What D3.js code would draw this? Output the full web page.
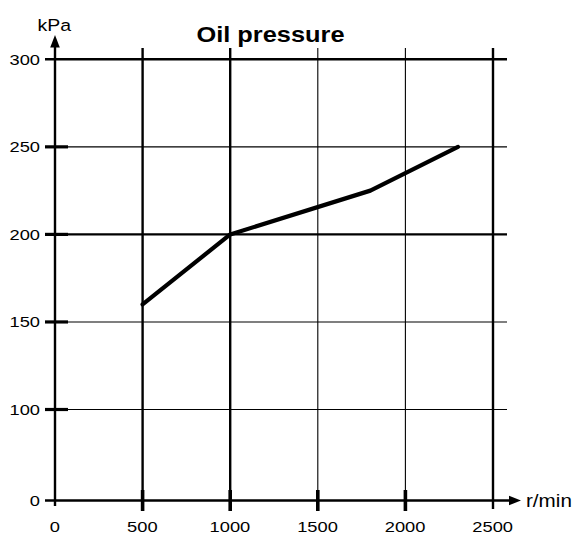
<!DOCTYPE html>
<html>
<head>
<meta charset="utf-8">
<script src="https://cdn.jsdelivr.net/npm/d3@7/dist/d3.min.js"></script>
<style>
  body { margin: 0; background: #fff; }
  svg { display: block; }
  text { font-family: "Liberation Sans", Arial, Helvetica, sans-serif; fill: #000; }
</style>
</head>
<body>
<script>
// Engine oil pressure against engine speed
const rpm = [500, 1000, 1800, 2300];
const pressure = [160, 200, 225, 250];
const xTicks = [0, 500, 1000, 1500, 2000, 2500];
const yTicks = [0, 100, 150, 200, 250, 300];
const chartTitle = "Oil pressure";
const xUnit = "r/min";
const yUnit = "kPa";

const W = 580, H = 535;
const svg = d3.select("body").append("svg").attr("width", W).attr("height", H);

// x is linear; y has a compressed break between 0 and 100
const x = d3.scaleLinear().domain([0, 2500]).range([55, 493]);
const y = d3.scaleLinear().domain([0, 100, 300]).range([500.5, 409.5, 59.3]);

const heavyX = new Set([0, 500, 1000, 2500]);
const heavyY = new Set([0, 200, 300]);
const sx = 1.18; // wide lettering

function label(g, tx, ty, str, size, anchor, weight) {
  g.append("text")
    .attr("transform", `translate(${tx},${ty}) scale(${sx},1)`)
    .attr("text-anchor", anchor)
    .attr("font-size", size)
    .attr("font-weight", weight || "normal")
    .text(str);
}

const grid = svg.append("g");

// horizontal grid lines
yTicks.filter(v => v > 0).forEach(v => {
  grid.append("line")
    .attr("x1", 45).attr("x2", 507)
    .attr("y1", y(v)).attr("y2", y(v))
    .attr("stroke", "#000")
    .attr("stroke-width", heavyY.has(v) ? 2.4 : 1.1);
  if (v < 300) {
    grid.append("line")
      .attr("x1", 45).attr("x2", 68)
      .attr("y1", y(v)).attr("y2", y(v))
      .attr("stroke", "#000").attr("stroke-width", 3.2);
  }
});

// vertical grid lines
xTicks.filter(v => v > 0).forEach(v => {
  grid.append("line")
    .attr("x1", x(v)).attr("x2", x(v))
    .attr("y1", 48).attr("y2", v === 2500 ? 509 : 500)
    .attr("stroke", "#000")
    .attr("stroke-width", heavyX.has(v) ? 2.4 : 1.1);
  if (v < 2500) {
    grid.append("line")
      .attr("x1", x(v)).attr("x2", x(v))
      .attr("y1", 490).attr("y2", 511)
      .attr("stroke", "#000").attr("stroke-width", 3.6);
  }
});

// axes with arrowheads
const axes = svg.append("g");
axes.append("line")
  .attr("x1", 45).attr("x2", 512)
  .attr("y1", y(0)).attr("y2", y(0))
  .attr("stroke", "#000").attr("stroke-width", 2.4);
axes.append("line")
  .attr("x1", x(0)).attr("x2", x(0))
  .attr("y1", 506).attr("y2", 44)
  .attr("stroke", "#000").attr("stroke-width", 2.4);
axes.append("path")
  .attr("d", `M521,${y(0)} L509,${y(0) - 4.8} L509,${y(0) + 4.8} Z`)
  .attr("fill", "#000");
axes.append("path")
  .attr("d", `M${x(0)},35 L${x(0) - 4.8},47.5 L${x(0) + 4.8},47.5 Z`)
  .attr("fill", "#000");

// data line
const pts = rpm.map((r, i) => [r, pressure[i]]);
svg.append("path")
  .datum(pts)
  .attr("fill", "none")
  .attr("stroke", "#000")
  .attr("stroke-width", 4.2)
  .attr("stroke-linejoin", "round")
  .attr("stroke-linecap", "round")
  .attr("d", d3.line().x(d => x(d[0])).y(d => y(d[1])));

// tick labels
const labels = svg.append("g");
yTicks.forEach(v => label(labels, 40, y(v) + 5.5, String(v), 15.5, "end"));
xTicks.forEach(v => label(labels, x(v) - 0.3, 532, String(v), 15.5, "middle"));

// units and title
label(labels, 37.5, 30.5, yUnit, 16.5, "start");
label(labels, 526, 506.5, xUnit, 17.5, "start");
label(labels, 270.5, 41.5, chartTitle, 21.5, "middle", "bold");
</script>
</body>
</html>
